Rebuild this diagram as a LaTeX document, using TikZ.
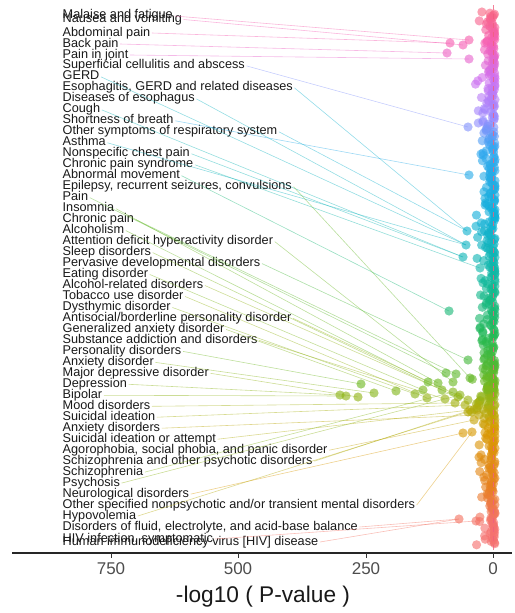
\documentclass[tikz,border=0pt]{standalone}
\usepackage{fontspec}
\setmainfont{Liberation Sans}
\definecolor{k0}{HTML}{F8667F}
\definecolor{k1}{HTML}{F55FB5}
\definecolor{k2}{HTML}{D070F0}
\definecolor{k3}{HTML}{9B8CFF}
\definecolor{k4}{HTML}{35A8F0}
\definecolor{k5}{HTML}{10B0D8}
\definecolor{k6}{HTML}{10B8A0}
\definecolor{k7}{HTML}{25B850}
\definecolor{k8}{HTML}{70B820}
\definecolor{k9}{HTML}{A8B010}
\definecolor{k10}{HTML}{D89A00}
\definecolor{k11}{HTML}{E88020}
\definecolor{k12}{HTML}{F5706E}
\newcommand\mixk[5]{\pgfmathsetmacro\f{min(100,max(0,(\yy-#1)/(#2-#1)*100))}\colorlet{#5}{#4!\f!#3}}
\newcommand\huecol[2]{%
	\pgfmathsetmacro\yy{#2}%
	\ifdim\yy pt<45pt \mixk{10}{45}{k0}{k1}{#1}\else
	\ifdim\yy pt<80pt \mixk{45}{80}{k1}{k2}{#1}\else
	\ifdim\yy pt<120pt \mixk{80}{120}{k2}{k3}{#1}\else
	\ifdim\yy pt<150pt \mixk{120}{150}{k3}{k4}{#1}\else
	\ifdim\yy pt<220pt \mixk{150}{220}{k4}{k5}{#1}\else
	\ifdim\yy pt<280pt \mixk{220}{280}{k5}{k6}{#1}\else
	\ifdim\yy pt<340pt \mixk{280}{340}{k6}{k7}{#1}\else
	\ifdim\yy pt<385pt \mixk{340}{385}{k7}{k8}{#1}\else
	\ifdim\yy pt<405pt \mixk{385}{405}{k8}{k9}{#1}\else
	\ifdim\yy pt<430pt \mixk{405}{430}{k9}{k10}{#1}\else
	\ifdim\yy pt<490pt \mixk{430}{490}{k10}{k11}{#1}\else
	\mixk{490}{525}{k11}{k12}{#1}%
	\fi\fi\fi\fi\fi\fi\fi\fi\fi\fi\fi}
\newcommand\pnt[3]{\coordinate (#1) at (#2,#3);\huecol{c#1}{#3}}
\newcommand\dotat[1]{\fill[pt,c#1] (#1) circle (4.6pt);}
\newcommand\lnk[2]{\draw[seg,c#2] (#1.east) -- (#2);}
\definecolor{zeroline}{HTML}{F0607F}
\definecolor{ticktext}{HTML}{4D4D4D}
\begin{document}
\begin{tikzpicture}[x=1pt,y=-1pt,
		lbl/.style={anchor=west,inner sep=1.5pt,text height=8pt,text depth=2pt,font=\fontsize{12.7}{12.7}\selectfont,text=black!90},
		seg/.style={line width=0.6pt,draw opacity=0.45},
		pt/.style={fill opacity=0.62},
		tick/.style={font=\fontsize{17}{17}\selectfont,text=ticktext}]
			\useasboundingbox (0,0) rectangle (514,613);
			\pnt{pmal}{469}{40}
			\pnt{pnau}{463}{45}
			\pnt{pabd}{450}{43}
			\pnt{pbac}{447}{53}
			\pnt{pjoi}{469}{59}
			\pnt{pcel}{468}{127}
			\pnt{pbre}{469}{175}
			\pnt{peso}{467}{231}
			\pnt{pger}{466}{245}
			\pnt{pcou}{463}{257}
			\pnt{psyn}{480}{268}
			\pnt{pmov}{449}{311}
			\pnt{pper}{468}{360}
			\pnt{ppai}{446}{373}
			\pnt{pchr}{456}{374}
			\pnt{pepi}{470}{378}
			\pnt{pins}{438}{383}
			\pnt{palc}{428}{382}
			\pnt{patt}{453}{382}
			\pnt{ppes}{361}{384}
			\pnt{psle}{442}{390}
			\pnt{peat}{423}{390}
			\pnt{pgen}{396}{391}
			\pnt{pscz}{453}{392}
			\pnt{panx}{374}{393}
			\pnt{pdys}{415}{394}
			\pnt{pdep}{340}{395}
			\pnt{ppsy}{460}{395}
			\pnt{pbip}{346}{396}
			\pnt{pmaj}{358}{397}
			\pnt{paln}{458}{397}
			\pnt{ptob}{427}{398}
			\pnt{psub}{445}{399}
			\pnt{pant}{468}{400}
			\pnt{pmoo}{455}{403}
			\pnt{psui}{465}{405}
			\pnt{psco}{477}{408}
			\pnt{patm}{470}{410}
			\pnt{phyp}{468}{412}
			\pnt{panxs}{479}{415}
			\pnt{pago}{474}{420}
			\pnt{pspe}{472}{432}
			\pnt{pneu}{463}{433}
			\pnt{pflu}{459}{519}
			\pnt{phis}{476}{521}
			\node[lbl] (malaise) at (61,16) {Malaise and fatigue};
			\node[lbl] (nausea) at (61,19.5) {Nausea and vomiting};
			\node[lbl] (abdominal) at (61,33) {Abdominal pain};
			\node[lbl] (back) at (61,44) {Back pain};
			\node[lbl] (joint) at (61,55) {Pain in joint};
			\node[lbl] (cellulitis) at (61,65.9) {Superficial cellulitis and abscess};
			\node[lbl] (gerd) at (61,76.9) {GERD};
			\node[lbl] (esophagitis) at (61,87.9) {Esophagitis, GERD and related diseases};
			\node[lbl] (esophagus) at (61,98.9) {Diseases of esophagus};
			\node[lbl] (cough) at (61,109.9) {Cough};
			\node[lbl] (breath) at (61,120.8) {Shortness of breath};
			\node[lbl] (respiratory) at (61,131.8) {Other symptoms of respiratory system};
			\node[lbl] (asthma) at (61,142.8) {Asthma};
			\node[lbl] (chest) at (61,153.8) {Nonspecific chest pain};
			\node[lbl] (syndrome) at (61,164.8) {Chronic pain syndrome};
			\node[lbl] (movement) at (61,175.7) {Abnormal movement};
			\node[lbl] (epilepsy) at (61,186.7) {Epilepsy, recurrent seizures, convulsions};
			\node[lbl] (pain) at (61,197.7) {Pain};
			\node[lbl] (insomnia) at (61,208.7) {Insomnia};
			\node[lbl] (chronic) at (61,219.6) {Chronic pain};
			\node[lbl] (alcoholism) at (61,230.6) {Alcoholism};
			\node[lbl] (attention) at (61,241.6) {Attention deficit hyperactivity disorder};
			\node[lbl] (sleep) at (61,252.6) {Sleep disorders};
			\node[lbl] (pervasive) at (61,263.6) {Pervasive developmental disorders};
			\node[lbl] (eating) at (61,274.5) {Eating disorder};
			\node[lbl] (alcohol) at (61,285.5) {Alcohol-related disorders};
			\node[lbl] (tobacco) at (61,296.5) {Tobacco use disorder};
			\node[lbl] (dysthymic) at (61,307.5) {Dysthymic disorder};
			\node[lbl] (antisocial) at (61,318.4) {Antisocial/borderline personality disorder};
			\node[lbl] (generalized) at (61,329.4) {Generalized anxiety disorder};
			\node[lbl] (substance) at (61,340.4) {Substance addiction and disorders};
			\node[lbl] (personality) at (61,351.4) {Personality disorders};
			\node[lbl] (anxiety) at (61,362.4) {Anxiety disorder};
			\node[lbl] (major) at (61,373.3) {Major depressive disorder};
			\node[lbl] (depression) at (61,384.3) {Depression};
			\node[lbl] (bipolar) at (61,395.3) {Bipolar};
			\node[lbl] (mood) at (61,406.3) {Mood disorders};
			\node[lbl] (suicidal) at (61,417.2) {Suicidal ideation};
			\node[lbl] (anxieties) at (61,428.2) {Anxiety disorders};
			\node[lbl] (attempt) at (61,439.2) {Suicidal ideation or attempt};
			\node[lbl] (agoraphobia) at (61,450.2) {Agorophobia, social phobia, and panic disorder};
			\node[lbl] (schizoother) at (61,461.2) {Schizophrenia and other psychotic disorders};
			\node[lbl] (schizophrenia) at (61,472.1) {Schizophrenia};
			\node[lbl] (psychosis) at (61,483.1) {Psychosis};
			\node[lbl] (neurological) at (61,494.1) {Neurological disorders};
			\node[lbl] (specified) at (61,505.1) {Other specified nonpsychotic and/or transient mental disorders};
			\node[lbl] (hypovolemia) at (61,516) {Hypovolemia};
			\node[lbl] (fluid) at (61,527) {Disorders of fluid, electrolyte, and acid-base balance};
			\node[lbl] (hivsym) at (61,539) {HIV infection, symptomatic};
			\node[lbl] (hiv) at (61,542) {Human immunodeficiency virus [HIV] disease};
			\lnk{malaise}{pmal}
			\lnk{nausea}{pnau}
			\lnk{abdominal}{pabd}
			\lnk{back}{pbac}
			\lnk{joint}{pjoi}
			\lnk{cellulitis}{pcel}
			\lnk{gerd}{pger}
			\lnk{esophagitis}{peso}
			\lnk{esophagus}{pger}
			\lnk{cough}{pcou}
			\lnk{breath}{pbre}
			\lnk{respiratory}{peso}
			\lnk{asthma}{pger}
			\lnk{chest}{pcou}
			\lnk{syndrome}{psyn}
			\lnk{movement}{pmov}
			\lnk{epilepsy}{pepi}
			\lnk{pain}{ppai}
			\lnk{insomnia}{pins}
			\lnk{chronic}{pchr}
			\lnk{alcoholism}{palc}
			\lnk{attention}{patt}
			\lnk{sleep}{psle}
			\lnk{pervasive}{pper}
			\lnk{eating}{peat}
			\lnk{alcohol}{paln}
			\lnk{tobacco}{ptob}
			\lnk{dysthymic}{pdys}
			\lnk{antisocial}{pant}
			\lnk{generalized}{pgen}
			\lnk{substance}{psub}
			\lnk{personality}{ppes}
			\lnk{anxiety}{panx}
			\lnk{major}{pmaj}
			\lnk{depression}{pdep}
			\lnk{bipolar}{pbip}
			\lnk{mood}{pmoo}
			\lnk{suicidal}{psui}
			\lnk{anxieties}{panxs}
			\lnk{attempt}{patm}
			\lnk{agoraphobia}{pago}
			\lnk{schizoother}{psco}
			\lnk{schizophrenia}{pscz}
			\lnk{psychosis}{ppsy}
			\lnk{neurological}{pneu}
			\lnk{specified}{pspe}
			\lnk{hypovolemia}{phyp}
			\lnk{fluid}{pflu}
			\lnk{hivsym}{phis}
			\lnk{hiv}{pflu}
			\pgfmathsetseed{11}
			\foreach \i in {0,...,480}{
				\pgfmathsetmacro\py{12+\i*1.11}
				\pgfmathsetmacro\px{495-21*rnd*rnd}
				\huecol{cb}{\py}
				\fill[pt,cb] (\px,\py) circle (4.6pt);
			}
			\foreach \i in {0,...,30}{
				\pgfmathsetmacro\py{362+rnd*55}
				\pgfmathsetmacro\px{494-32*rnd*rnd}
				\huecol{cb}{\py}
				\fill[pt,cb] (\px,\py) circle (4.6pt);
			}
			\foreach \p in {pmal,pnau,pabd,pbac,pjoi,pcel,pbre,peso,pger,pcou,psyn,pmov,pper,ppai,pchr,pepi,pins,palc,patt,ppes,psle,peat,pgen,pscz,panx,pdys,pdep,ppsy,pbip,pmaj,paln,ptob,psub,pant,pmoo,psui,psco,patm,phyp,panxs,pago,pspe,pneu,pflu,phis}{\dotat{\p}}
			\draw [zeroline,line width=1pt,dash pattern=on 5pt off 4pt,draw opacity=0.8] (493,5)-- (493,553);
			\draw [line width=1.3pt,black!85] (12,553)-- (512,553);
			\draw [line width=1pt,black!80] (111,553)-- (111,558);
			\draw [line width=1pt,black!80] (238,553)-- (238,558);
			\draw [line width=1pt,black!80] (366,553)-- (366,558);
			\draw [line width=1pt,black!80] (493,553)-- (493,558);
			\node[tick] (t750) at (111,569) {750};
			\node[tick] (t500) at (238,569) {500};
			\node[tick] (t250) at (366,569) {250};
			\node[tick] (t0) at (493,569) {0};
			\node[font=\fontsize{22.7}{22.7}\selectfont,text=black!90] (title) at (263,597) {-log10 ( P-value )};
		\end{tikzpicture}
\end{document}
